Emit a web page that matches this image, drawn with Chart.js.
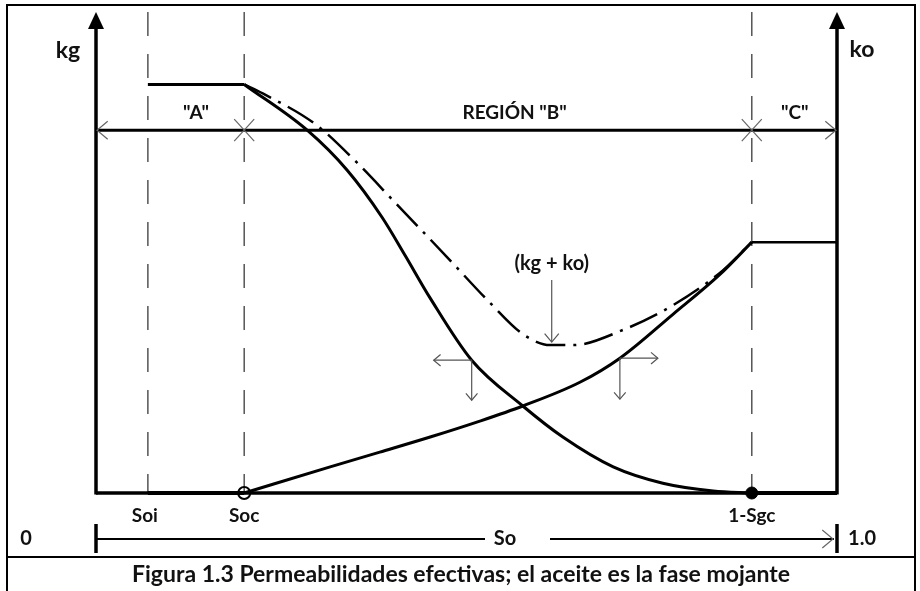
<!DOCTYPE html>
<html>
<head>
<meta charset="utf-8">
<script src="https://cdn.jsdelivr.net/npm/chart.js@4.4.1/dist/chart.umd.min.js"></script>
<style>
    html, body { margin:0; padding:0; background:#fff; }
    #wrap { position:relative; width:920px; height:591px; }
</style>
</head>
<body>
<div id="wrap"><canvas id="chart_canvas" width="920" height="591"></canvas></div>
<script>
// Saturaciones marcadas sobre el eje So
const satLabels = ['Soi', 'Soc', '1-Sgc']
const satValues = [0.07, 0.2, 0.885]
const axisEnds = ['0', '1.0']

// kg : meseta entre Soi y Soc, luego cae hasta 1-Sgc
const kgFlatX = [0.07, 0.2]
const kgFlatY = [1, 1]
const kgX = [0.2, 0.285, 0.339, 0.386, 0.417, 0.451, 0.507, 0.576, 0.63, 0.698, 0.765, 0.833, 0.885]
const kgY = [1, 0.888, 0.79, 0.675, 0.582, 0.477, 0.325, 0.213, 0.137, 0.064, 0.024, 0.005, 0]
const kgTailX = [0.885, 1]
const kgTailY = [0, 0]

// ko : nulo hasta Soc, sube hasta 1-Sgc y queda constante
const koHeadX = [0.07, 0.2]
const koHeadY = [0, 0]
const koX = [0.2, 0.316, 0.383, 0.451, 0.518, 0.576, 0.653, 0.707, 0.779, 0.842, 0.885]
const koY = [0, 0.064, 0.1, 0.137, 0.176, 0.213, 0.271, 0.33, 0.438, 0.535, 0.614]
const koFlatX = [0.885, 1]
const koFlatY = [0.614, 0.614]

// (kg + ko)
const sumX = [0.2, 0.225, 0.298, 0.352, 0.401, 0.474, 0.532, 0.576, 0.613, 0.644, 0.711, 0.779, 0.846, 0.885]
const sumY = [1, 0.978, 0.9, 0.809, 0.716, 0.577, 0.465, 0.389, 0.362, 0.362, 0.399, 0.46, 0.545, 0.614]

// regiones
const regionLevel = 0.888
const regionLabels = ['"A"', 'REGIÓN "B"', '"C"']
const regionCenters = [0.135, 0.565, 0.943]

const sumLabel = '(kg + ko)'
const sumPointer = [0.615, 0.362]
const kgMark = [0.507, 0.325]
const koMark = [0.707, 0.33]
const caption = 'Figura 1.3 Permeabilidades efectivas; el aceite es la fase mojante'

const pts = (xs, ys) => xs.map((v, i) => ({x: v, y: ys[i]}))
const FONT = 'Lato, "DejaVu Sans", sans-serif'

function line(ctx, x1, y1, x2, y2) {
    ctx.beginPath(); ctx.moveTo(x1, y1); ctx.lineTo(x2, y2); ctx.stroke()
}
// flecha abierta : punta en (x,y), dirección (dx,dy)
function chevron(ctx, x, y, dx, dy, len) {
    const a = Math.atan2(dy, dx)
    ctx.beginPath()
    ctx.moveTo(x - len * Math.cos(a - 0.7), y - len * Math.sin(a - 0.7))
    ctx.lineTo(x, y)
    ctx.lineTo(x - len * Math.cos(a + 0.7), y - len * Math.sin(a + 0.7))
    ctx.stroke()
}
function text(ctx, s, x, y, size) {
    ctx.font = 'bold ' + size + 'px ' + FONT
    ctx.fillStyle = '#111'
    ctx.textAlign = 'center'
    ctx.textBaseline = 'middle'
    ctx.fillText(s, x, y)
}

const diagram = {
    id: 'diagram',
    beforeDatasetsDraw(chart) {
        const {ctx, chartArea: {left, right, top, bottom}, scales: {x, y}} = chart
        ctx.save()
        // marco + separación del pie
        ctx.strokeStyle = '#000'
        ctx.lineWidth = 2
        ctx.strokeRect(7, 5, 908, 620)
        line(ctx, 7, 557, 915, 557)

        // verticales discontinuas
        ctx.strokeStyle = '#555'
        ctx.lineWidth = 1.5
        ctx.setLineDash([24, 18])
        satValues.forEach(v => {
            const px = x.getPixelForValue(v)
            line(ctx, px, top - 3, px, bottom)
        })
        ctx.setLineDash([])

        // ejes kg / ko
        ctx.strokeStyle = '#000'
        ctx.fillStyle = '#000'
        ctx.lineWidth = 3.5
        ;[left, right].forEach(px => {
            line(ctx, px, bottom + 1.5, px, top + 12)
            ctx.beginPath()
            ctx.moveTo(px, top - 3)
            ctx.lineTo(px - 8, top + 14)
            ctx.lineTo(px + 8, top + 14)
            ctx.closePath()
            ctx.fill()
        })
        line(ctx, left, bottom, right, bottom)

        // línea de regiones
        const ry = y.getPixelForValue(regionLevel)
        ctx.lineWidth = 3
        line(ctx, left, ry, right, ry)
        ctx.strokeStyle = '#666'
        ctx.lineWidth = 1.2
        chevron(ctx, left + 1, ry, -1, 0, 14)
        chevron(ctx, right - 1, ry, 1, 0, 14)
        ;[satValues[1], satValues[2]].forEach(v => {
            const px = x.getPixelForValue(v)
            line(ctx, px - 10, ry - 11, px + 10, ry + 11)
            line(ctx, px - 10, ry + 11, px + 10, ry - 11)
        })
        ctx.restore()
    },
    afterDatasetsDraw(chart) {
        const {ctx, chartArea: {left, right, top, bottom}, scales: {x, y}} = chart
        ctx.save()
        const ry = y.getPixelForValue(regionLevel)
        regionLabels.forEach((s, i) => text(ctx, s, x.getPixelForValue(regionCenters[i]), ry - 17, 19))

        text(ctx, 'kg', left - 28, 51, 23)
        text(ctx, 'ko', right + 25, 50, 23)

        // (kg + ko) y su flecha
        const px = x.getPixelForValue(sumPointer[0])
        const tip = y.getPixelForValue(sumPointer[1]) - 3
        ctx.strokeStyle = '#555'
        ctx.lineWidth = 1.2
        line(ctx, px, tip - 62, px, tip)
        chevron(ctx, px, tip, 0, 1, 11)
        text(ctx, sumLabel, px, tip - 79, 20)

        // flechitas sobre kg y ko
        const kx = x.getPixelForValue(kgMark[0])
        const ky = y.getPixelForValue(kgMark[1])
        line(ctx, kx - 38, ky, kx, ky)
        line(ctx, kx, ky, kx, ky + 40)
        chevron(ctx, kx - 38, ky, -1, 0, 9)
        chevron(ctx, kx, ky + 40, 0, 1, 9)
        const ox = x.getPixelForValue(koMark[0])
        const oy = y.getPixelForValue(koMark[1])
        line(ctx, ox, oy, ox + 38, oy)
        line(ctx, ox, oy, ox, oy + 41)
        chevron(ctx, ox + 38, oy, 1, 0, 9)
        chevron(ctx, ox, oy + 41, 0, 1, 9)

        // etiquetas de saturación
        satLabels.forEach((s, i) => text(ctx, s, x.getPixelForValue(satValues[i]) - (i === 0 ? 3 : 0), bottom + 23, 19))

        // eje So
        const sy = bottom + 46
        ctx.strokeStyle = '#000'
        ctx.lineWidth = 2
        line(ctx, left, sy, 485, sy)
        line(ctx, 550, sy, right - 3, sy)
        ctx.lineWidth = 3.5
        line(ctx, left, sy - 15, left, sy + 14)
        line(ctx, right, sy - 15, right, sy + 14)
        ctx.strokeStyle = '#666'
        ctx.lineWidth = 1.2
        chevron(ctx, right - 4, sy, 1, 0, 14)
        text(ctx, 'So', 505, sy, 20)
        text(ctx, axisEnds[0], left - 70, sy, 20)
        text(ctx, axisEnds[1], right + 25, sy, 20)

        text(ctx, caption, 461, 575, 23)
        ctx.restore()
    }
}

const data = {
    datasets: [{
        data: [{x: satValues[1], y: 0}],
        pointRadius: 6,
        pointBorderWidth: 2,
        pointBorderColor: '#000',
        pointBackgroundColor: 'rgba(255,255,255,0)'
    }, {
        data: [{x: satValues[2], y: 0}],
        pointRadius: 6,
        pointBorderWidth: 1,
        pointBorderColor: '#000',
        pointBackgroundColor: '#000'
    }, {
        data: pts(kgFlatX, kgFlatY), showLine: true, borderColor: '#000', borderWidth: 3, pointRadius: 0
    }, {
        data: pts(kgX, kgY), showLine: true, borderColor: '#000', borderWidth: 3, pointRadius: 0,
        tension: 0.4, cubicInterpolationMode: 'monotone'
    }, {
        data: pts(kgTailX, kgTailY), showLine: true, borderColor: '#000', borderWidth: 4, pointRadius: 0
    }, {
        data: pts(koHeadX, koHeadY), showLine: true, borderColor: '#000', borderWidth: 4, pointRadius: 0
    }, {
        data: pts(koX, koY), showLine: true, borderColor: '#000', borderWidth: 3, pointRadius: 0,
        tension: 0.4, cubicInterpolationMode: 'monotone'
    }, {
        data: pts(koFlatX, koFlatY), showLine: true, borderColor: '#000', borderWidth: 2.5, pointRadius: 0
    }, {
        data: pts(sumX, sumY), showLine: true, borderColor: '#000', borderWidth: 2.5, pointRadius: 0,
        borderDash: [30, 8, 3, 8], tension: 0.4, cubicInterpolationMode: 'monotone'
    }]
}

const config = {
    type: 'scatter',
    data,
    options: {
        responsive: false,
        animation: false,
        events: [],
        clip: false,
        layout: { padding: { left: 96, right: 83, top: 15, bottom: 98 } },
        scales: {
            x: { type: 'linear', min: 0, max: 1, display: false },
            y: { type: 'linear', min: 0, max: 1.17, display: false }
        },
        plugins: { legend: { display: false }, tooltip: { enabled: false } }
    },
    plugins: [diagram]
}

new Chart(document.getElementById('chart_canvas').getContext('2d'), config)
</script>
</body>
</html>
